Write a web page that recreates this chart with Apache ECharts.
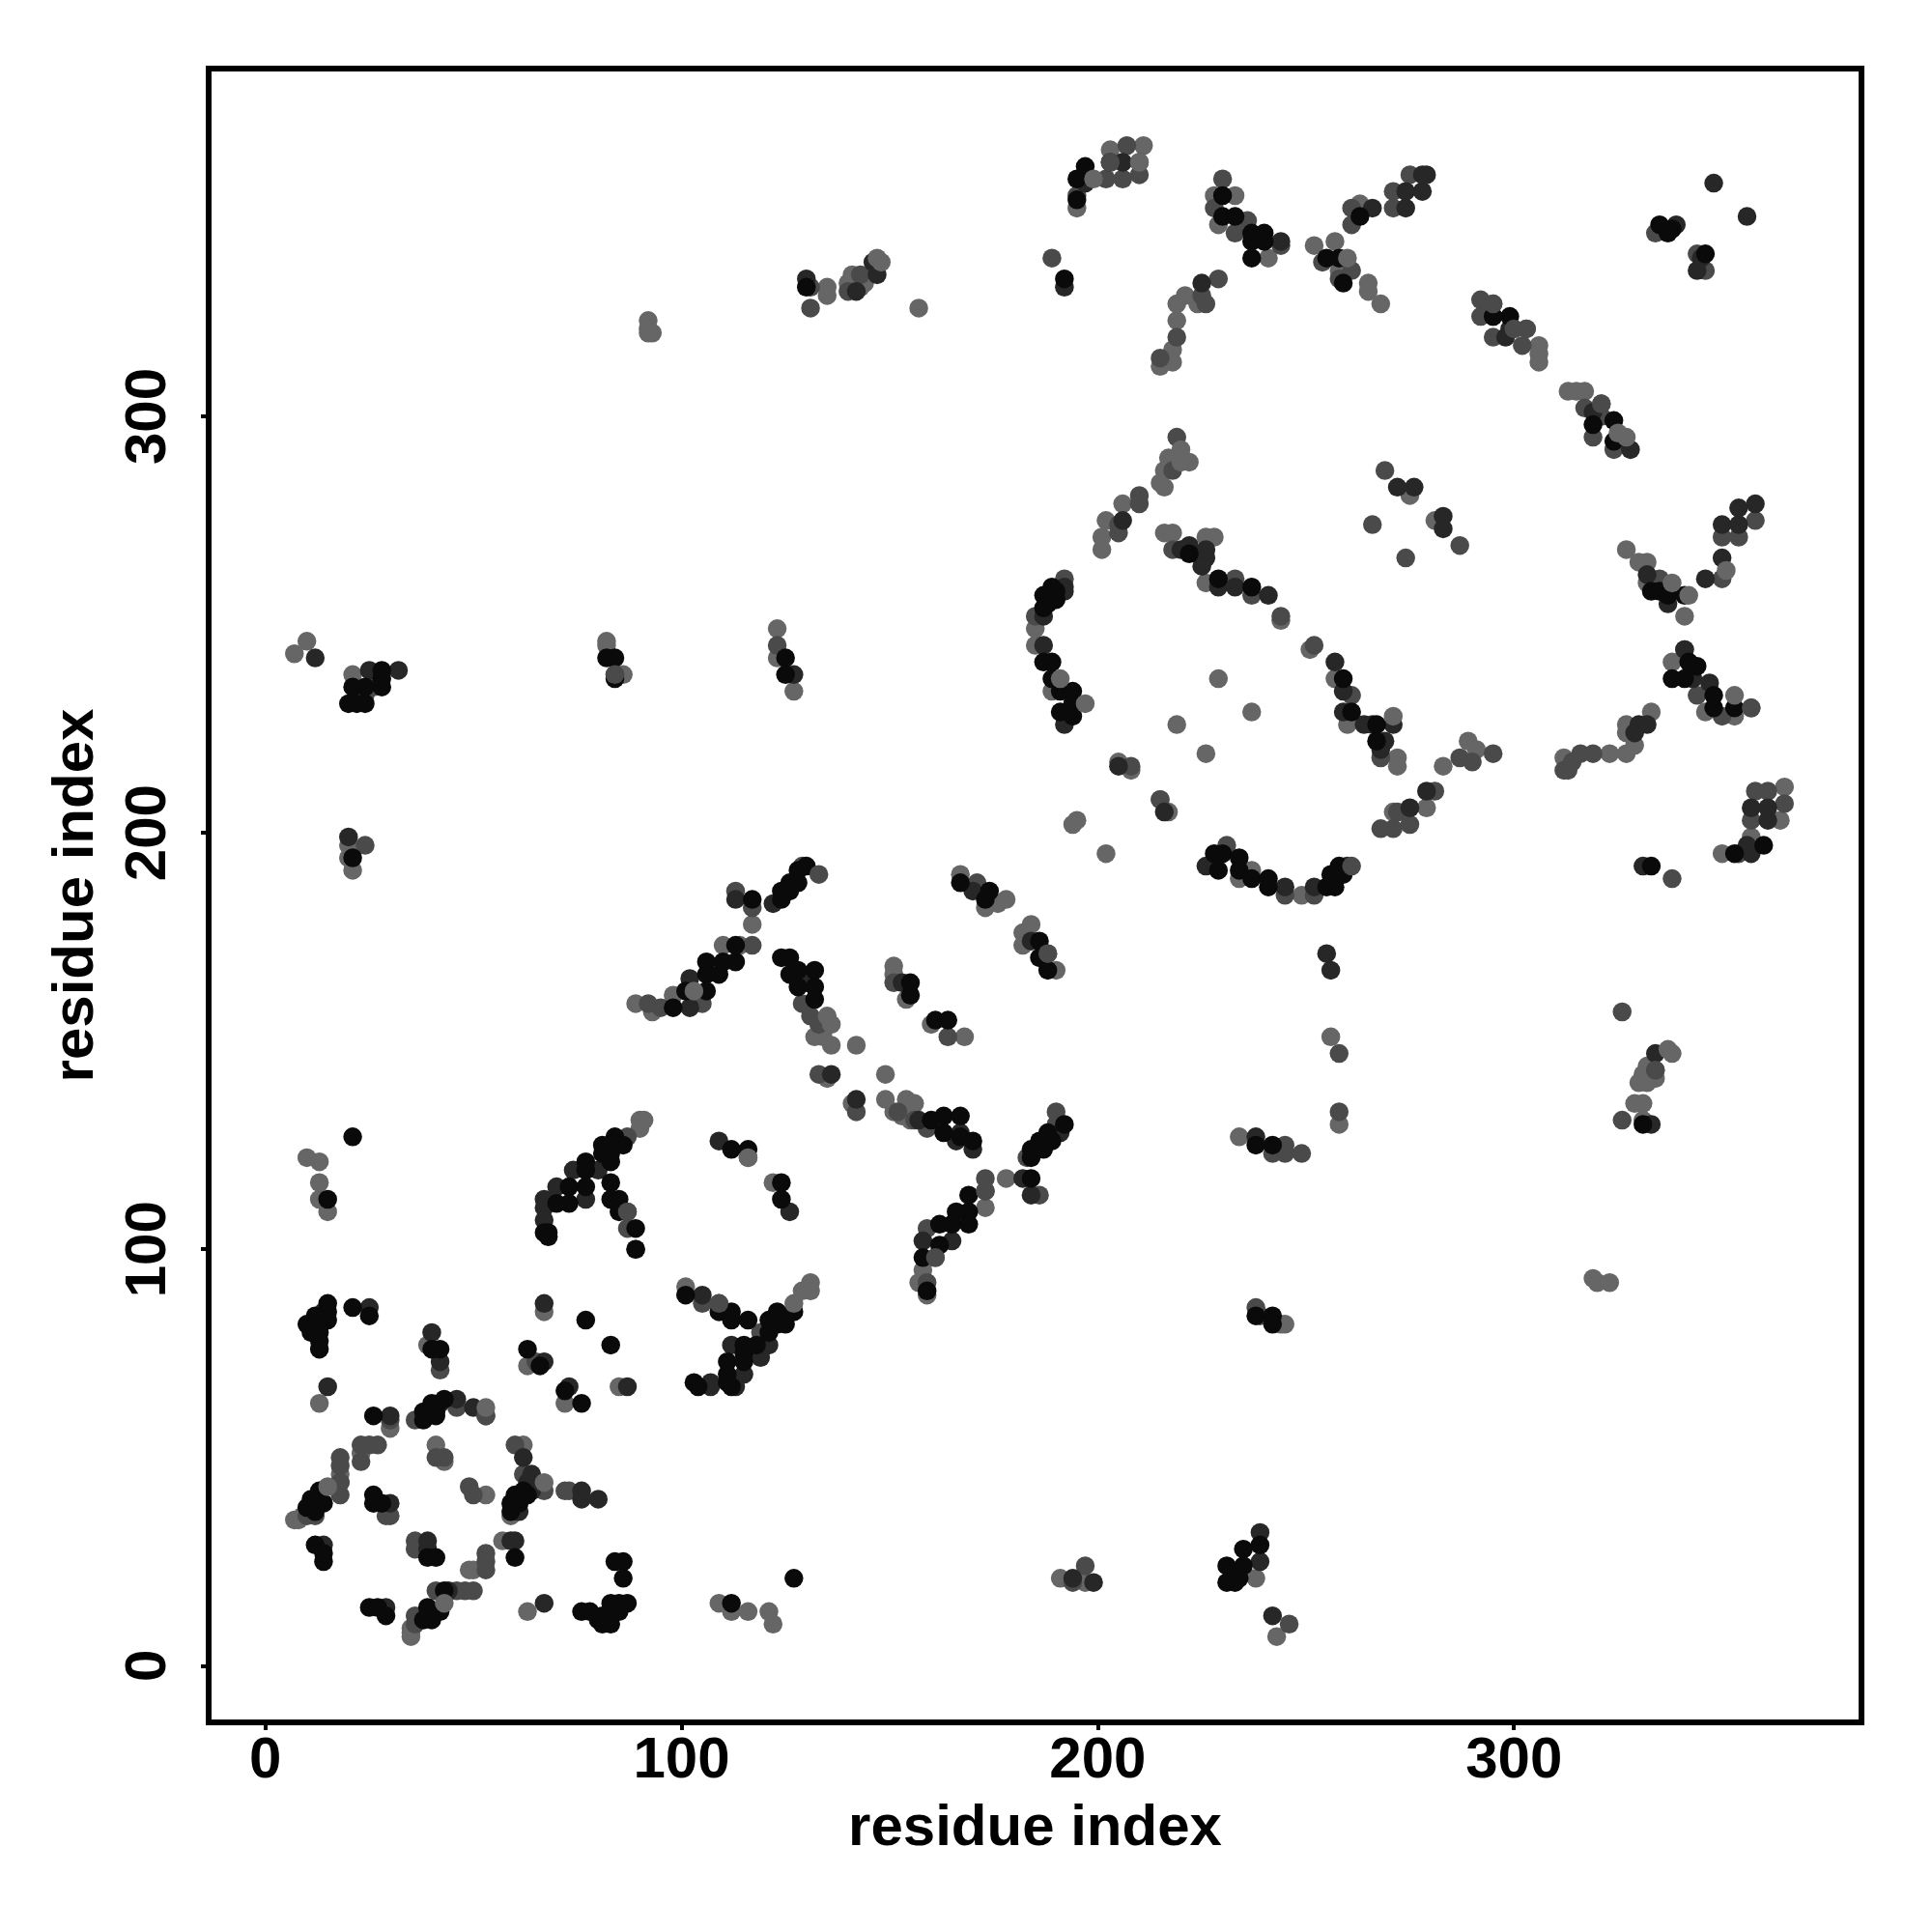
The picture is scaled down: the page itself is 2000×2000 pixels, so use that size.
<!DOCTYPE html>
<html><head><meta charset="utf-8">
<style>html,body{margin:0;padding:0;background:#fff}#c{width:2000px;height:2000px}</style>
<script src="https://cdn.jsdelivr.net/npm/echarts@6/dist/echarts.min.js"></script>
</head><body><div id="c"></div>
<script>
const tickValues = [0, 100, 200, 300];
const axisTitle = 'residue index';

const lightLow = [[13,63],[23,51],[30,57],[18,46],[9,36],[7,35],[8,35],[35,8],[35,7],[35,9],[39,77],[41,53],[43,49],[53,41],[62,53],[59,36],[49,23],[50,23],[57,30],[63,13],[67,85],[63,72],[72,63],[85,67],[109,15],[112,13],[116,13],[121,13],[122,10],[101,91],
[10,122],[13,121],[13,116],[13,112],[15,109],[10,246],[7,243],[21,238],[20,197],[20,194],[21,191],[82,246],[82,245],[86,238],[123,249],[123,242],[127,234],[92,323],[92,321],[93,320],[92,320],[135,331],[135,329],[141,334],[140,332],[143,331],[144,332],[157,326],
[98,161],[93,157],[89,159],[117,178],[114,173],[110,173],[116,122],[122,116],[91,131],[90,131],[90,129],[89,100],[132,151],[134,151],[136,149],[142,149],[135,141],[141,135],[149,142],[149,136],[151,168],[151,166],[154,160],[160,154],[168,151],[167,190],[173,182],[176,183],[178,184],[184,178],[182,176],[182,173],[190,167],[154,136],[156,135],[151,133],[153,132],[155,131],[178,117],[158,95],[157,92],[159,89],[173,110],
[238,21],[191,21],[197,20],[243,7],[217,290],[219,290],[216,287],[215,284],[216,283],[206,279],[202,275],[201,271],[201,268],[216,272],[218,272],[226,271],[228,271],[226,260],[244,251],[251,244],[257,237],[260,226],[272,218],[272,216],[185,249],[185,245],[189,234],[229,237],[237,229],[219,226],[226,219],[205,217],[208,215],[215,208],[217,205],[195,203],[194,202],[202,195],[237,191],[234,189],[249,185],[271,205],[279,206],[283,216],[289,222],[291,220],[312,218],[323,219],[327,219],[329,221],[327,226],[327,224],[333,229],[338,241],[341,244],[346,229],[353,228],[350,195],[357,199],[364,203],[365,211],
[195,350],[203,364],[211,365],[228,353],[233,353],[229,346],[241,338],[224,327],[221,329],[219,327],[219,323],[218,316],[218,313],[215,312],[252,341],[257,342],[263,351],[268,327],[258,335],[295,327],[306,317],[306,315],[306,313],[313,306],[315,306],[317,306],[327,268],[330,265],[332,265],[332,260],[341,252],
[256,151],[258,130],[234,127],[245,82],[244,82],[319,93],[320,92],[323,92],[329,135],[331,135],[331,142],[330,140],[332,140],[332,144],[331,131],[334,141],[275,281],[281,275]];

const midShade = [[23,53],[25,53],[27,53],[23,49],[18,50],[18,48],[18,44],[18,41],[10,36],[12,36],[30,59],[30,36],[29,36],[36,30],[36,28],[53,27],[53,25],[53,23],[41,18],[46,18],[48,18],[50,18],[36,12],[36,10],[65,73],[42,71],[46,62],[53,60],[36,59],[41,50],[43,50],[49,43],[50,41],[60,53],[62,46],[67,42],[72,42],[73,42],[105,87],[109,87],[24,233],[26,235],[24,197],[84,238],[123,245],[131,331],[131,326],[140,330],[143,334],[189,338],[194,20],[197,24],[246,10],
[113,186],[117,182],[117,173],[105,159],[95,158],[92,159],[129,192],[119,80],[129,159],[131,156],[133,154],[133,142],[142,133],[151,164],[164,151],[87,127],[87,109],[87,105],[159,129],[156,131],[152,133],[171,188],[188,171],[183,122],[190,133],[190,130],[186,113],[173,117],[173,114],[159,105],[161,98],[159,92],
[219,295],[218,287],[210,281],[210,279],[205,274],[205,272],[218,268],[233,261],[237,257],[244,252],[252,245],[261,233],[268,218],[185,252],[192,261],[266,274],[269,287],[287,269],[274,266],[208,216],[215,208],[231,197],[245,185],[252,185],[268,201],[271,201],[272,205],[275,202],[281,210],[287,218],[290,217],[295,219],[312,215],[313,215],[314,217],[316,219],[319,219],[344,233],[350,228],[357,230],[354,195],[357,203],[365,207],[358,210],[361,210],[338,189],
[195,353],[202,357],[206,357],[207,365],[210,358],[210,361],[230,357],[228,350],[233,344],[236,347],[244,341],[229,333],[225,329],[226,327],[219,319],[215,314],[254,337],[261,335],[258,333],[261,346],[261,350],[271,354],[271,350],[275,358],[292,328],[292,324],[295,324],[295,319],[300,321],[303,321],[302,317],[317,302],[321,303],[321,300],[319,295],[324,292],[335,261],[358,275],[354,271],[350,271],[350,261],
[258,147],[258,133],[242,123],[245,125],[245,123],[249,123],[326,157],[334,143],[326,131],[238,86],[239,84],[334,344],[344,339],[346,335]];

const darkShade = [[15,67],[25,86],[14,85],[30,60],[14,29],[30,39],[29,14],[39,30],[39,28],[60,30],[59,30],[44,18],[67,87],[67,15],[67,73],[73,67],[40,80],[42,73],[46,64],[50,62],[42,63],[62,50],[64,46],[63,44],[64,42],[61,37],[76,42],[76,40],[80,40],[87,67],[105,89],[107,68],[107,67],[121,77],[119,74],[115,70],[113,67],[112,77],[12,242],[25,239],[32,239],[20,199],[127,238],[130,333],[142,330],[147,334],[146,337],[192,331],[194,21],[199,20],[239,32],[239,25],[242,12],
[113,184],[102,165],[102,158],[122,183],[130,164],[136,142],[142,136],[153,164],[157,131],[166,126],[167,128],[170,124],[170,186],[184,174],[191,128],[182,117],[184,113],[165,102],[158,102],[80,119],[74,119],[70,115],[77,112],[67,112],[67,110],[67,107],[109,126],[126,109],
[206,275],[220,268],[222,269],[226,268],[226,266],[225,264],[229,259],[233,259],[241,257],[257,241],[259,234],[259,229],[264,226],[266,226],[271,226],[269,222],[268,220],[192,259],[192,258],[187,252],[187,245],[192,226],[272,283],[276,283],[283,276],[283,273],[205,216],[216,205],[226,192],[228,193],[245,187],[252,187],[260,192],[275,206],[279,210],[329,224],[330,226],[332,226],[341,244],[343,237],[347,236],[357,195],[356,197],[361,203],[357,206],[361,206],[331,192],
[197,356],[203,361],[206,361],[225,332],[244,342],[266,350],[274,354],[274,350],[278,358],[278,354],[279,358],[298,319],[299,321],[319,301],[328,292],[358,279],[354,278],[354,274],[350,274],[350,266],[346,261],[332,262],[337,255],
[238,127],[334,147],[333,130],[255,171],[256,167],[348,356],[356,348],[339,346],[345,338],[344,335]];

const blackShade = [[15,87],[15,85],[15,83],[13,83],[12,84],[12,82],[10,82],[11,80],[13,80],[13,76],[13,78],[21,86],[25,84],[13,42],[11,40],[13,40],[14,39],[12,39],[10,38],[12,37],[26,60],[26,41],[26,39],[28,39],[12,29],[14,25],[14,27],[25,14],[27,14],[29,12],[39,26],[41,26],[60,26],[43,18],[41,13],[39,14],[42,13],[39,12],[38,11],[40,11],[76,13],[78,13],[80,11],[81,10],[83,10],[83,15],[85,15],[87,15],[83,13],[81,12],[85,13],[84,25],[86,25],[86,21],[112,15],[127,21],[77,83],[83,77],[63,76],[66,72],[72,66],[76,63],[42,76],[40,76],[40,63],[41,61],[38,61],[39,60],[38,59],[41,60],[43,64],[60,41],[62,42],[59,39],[61,39],[63,41],[59,37],[21,127],[15,112],
[101,89],[109,85],[112,85],[112,83],[116,83],[115,77],[115,75],[118,77],[111,73],[115,73],[111,70],[103,68],[104,67],[112,67],[111,68],[121,83],[121,80],[123,85],[123,82],[125,82],[125,84],[127,85],[28,239],[28,235],[24,235],[21,235],[20,231],[22,231],[24,231],[28,237],[21,194],[82,242],[84,242],[84,237],[125,242],[125,238],[130,331],[192,333],[235,28],[239,29],[235,24],[231,24],[231,20],[234,21],[233,20],
[117,184],[113,169],[113,173],[110,169],[106,169],[109,166],[106,166],[106,162],[101,162],[98,158],[130,192],[128,191],[126,188],[128,188],[126,186],[124,186],[124,184],[124,170],[126,170],[126,166],[128,167],[132,167],[128,163],[132,163],[132,160],[155,164],[155,161],[161,155],[164,155],[160,131],[163,132],[167,132],[163,128],[167,127],[170,126],[167,188],[174,186],[173,184],[186,174],[186,170],[188,167],[192,130],[188,128],[186,126],[189,126],[184,124],[187,124],[184,122],[184,117],[169,113],[169,109],[166,109],[169,106],[165,106],[162,106],[162,101],[158,98],[159,90],
[84,127],[86,125],[83,125],[81,125],[83,123],[81,123],[83,121],[77,121],[77,119],[77,115],[73,115],[73,111],[70,111],[68,104],[67,104],[68,103],[83,116],[83,112],[85,112],[85,109],[89,105],[89,100],[112,124],[116,124],[124,116],[124,112],
[222,267],[229,261],[237,259],[259,237],[261,229],[267,226],[267,222],[190,258],[189,259],[190,256],[187,257],[188,255],[187,254],[187,241],[189,241],[189,237],[191,234],[194,234],[194,231],[191,229],[194,228],[228,195],[230,195],[229,191],[234,194],[234,191],[237,189],[241,189],[241,187],[255,187],[257,187],[256,190],[258,192],[259,190],[342,241],[344,240],[338,237],[341,237],[348,233],[348,230],[353,230],[333,192],[353,195],[360,197],
[197,360],[195,357],[195,352],[230,353],[230,348],[233,348],[237,344],[237,342],[240,344],[240,342],[237,338],[255,338],[258,338],[259,332],[263,348],[299,324],[295,324],[319,298],[324,299],[324,294],[333,258],[335,258],[337,257],[341,257],
[238,125],[242,125],[331,130],[242,84],[238,84],[242,82],[335,346],[338,345],[337,344],[346,339]];

const midTop = [[133,190],[84,238],[261,192],[357,230],[334,143],[295,327],[321,303],[203,361],[303,321],[300,321],[109,87],[18,44],[53,60],[87,109],[173,114],[161,98],[188,171]];
const lightTop = [[15,43],[43,15],[67,44],[53,62],[127,87],[129,90],[131,90],[131,92],[136,154],[135,156],[103,162],[116,122],[147,338],[148,337],[220,292],[222,289],[220,289],[265,332],[265,330],[271,228],[260,338],[325,296],[327,295],[338,260],[342,257],[351,263],[353,233],[337,148],[338,147],[199,357],[191,237],[210,361],[197,231]];

const shades = [
  {data: lightLow, color: '#666666'},
  {data: midShade, color: '#4a4a4a'},
  {data: darkShade, color: '#272727'},
  {data: blackShade, color: '#0a0a0a'},
  {data: midTop, color: '#4a4a4a'},
  {data: lightTop, color: '#666666'}
];

const axisCommon = {
  type: 'value', min: -13.6, max: 383.5,
  name: axisTitle, nameLocation: 'middle',
  nameTextStyle: {fontFamily: 'Liberation Sans', fontWeight: 'bold', fontSize: 60, color: '#000'},
  splitLine: {show: false},
  axisLine: {show: false, onZero: false},
  axisTick: {show: true, customValues: tickValues, length: 8, inside: false, lineStyle: {color: '#000', width: 4}},
  axisLabel: {show: true, customValues: tickValues, fontFamily: 'Liberation Sans', fontWeight: 'bold', fontSize: 60, color: '#000', hideOverlap: false, showMinLabel: true, showMaxLabel: true}
};
const chart = echarts.init(document.getElementById('c'), null, {renderer: 'canvas', width: 2000, height: 2000});
chart.setOption({
  animation: false,
  backgroundColor: '#fff',
  grid: {left: 216, top: 71, width: 1711, height: 1712, show: true, borderWidth: 6, borderColor: '#000', backgroundColor: 'transparent', z: 10},
  xAxis: Object.assign({}, axisCommon, {nameGap: 80, axisLabel: Object.assign({}, axisCommon.axisLabel, {margin: 10})}),
  yAxis: Object.assign({}, axisCommon, {nameGap: 107, axisLabel: Object.assign({}, axisCommon.axisLabel, {margin: 32, rotate: 90})}),
  series: shades.map(s => ({type: 'scatter', data: s.data, symbol: 'circle', symbolSize: 19.5, itemStyle: {color: s.color, opacity: 1}, silent: true, large: false}))
});
</script></body></html>
